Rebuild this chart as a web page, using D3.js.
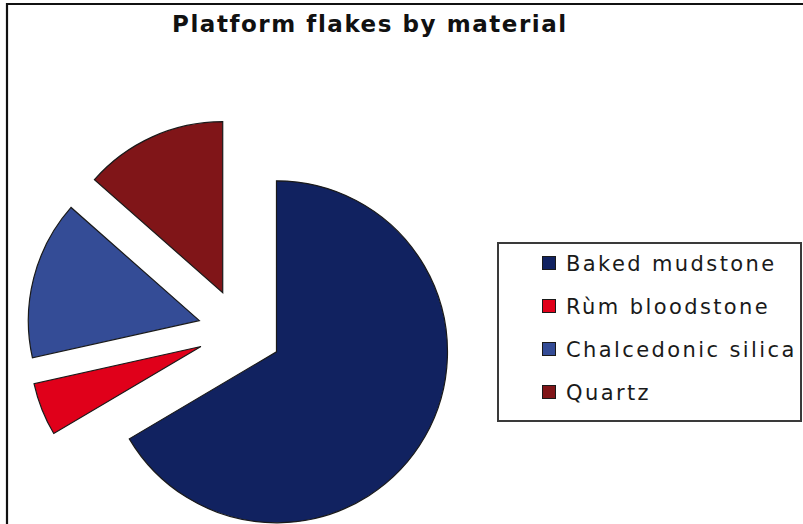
<!DOCTYPE html>
<html>
<head>
<meta charset="utf-8">
<script src="https://cdn.jsdelivr.net/npm/d3@7"></script>
<style>
  html, body { margin: 0; padding: 0; background: #fff; }
  svg { display: block; }
</style>
</head>
<body>
<svg id="chart" width="803" height="524"></svg>
<script>
// Platform flakes counted per raw material
const categories = ["Baked mudstone", "Rùm bloodstone", "Chalcedonic silica", "Quartz"];
const counts = [133, 10, 30, 27];
const colors = ["#112260", "#e0001a", "#344c96", "#801518"];
const title = "Platform flakes by material";

const svg = d3.select("#chart");
const W = 803, H = 524;

// outer frame (top and left edges visible)
svg.append("path")
  .attr("d", `M7,${H} V4 H${W}`)
  .attr("fill", "none")
  .attr("stroke", "#111")
  .attr("stroke-width", 2.2);

// title
svg.append("text")
  .attr("x", 172)
  .attr("y", 32)
  .attr("font-family", "DejaVu Sans, Verdana, sans-serif")
  .attr("font-weight", "bold")
  .attr("font-size", 23)
  .attr("letter-spacing", 1.55)
  .attr("fill", "#111")
  .text(title);

// exploded pie
const cx = 240, cy = 331, radius = 171, explode = 42;
const pie = d3.pie().sort(null).value(d => d.v);
const arcs = pie(categories.map((c, i) => ({ c, v: counts[i], col: colors[i] })));
const arc = d3.arc().innerRadius(0).outerRadius(radius);

const pieG = svg.append("g").attr("transform", `translate(${cx},${cy})`);
pieG.selectAll("path")
  .data(arcs)
  .join("path")
  .attr("transform", d => {
    const mid = (d.startAngle + d.endAngle) / 2;
    return `translate(${explode * Math.sin(mid)},${-explode * Math.cos(mid)})`;
  })
  .attr("d", arc)
  .attr("fill", d => d.data.col)
  .attr("stroke", "#1a1a1a")
  .attr("stroke-width", 1.2)
  .attr("stroke-linejoin", "miter");

// legend
const lg = svg.append("g");
lg.append("rect")
  .attr("x", 498).attr("y", 243)
  .attr("width", 303).attr("height", 178)
  .attr("fill", "#fff")
  .attr("stroke", "#3a3a3a")
  .attr("stroke-width", 2);

const ly = d3.scalePoint().domain(categories).range([271, 400]);
const items = lg.selectAll("g.item")
  .data(categories)
  .join("g")
  .attr("class", "item")
  .attr("transform", c => `translate(0,${ly(c)})`);

items.append("rect")
  .attr("x", 542.5).attr("y", -14.5)
  .attr("width", 13).attr("height", 13)
  .attr("fill", (c, i) => colors[i])
  .attr("stroke", "#1a1a1a")
  .attr("stroke-width", 1);

items.append("text")
  .attr("x", 566)
  .attr("y", 0)
  .attr("font-family", "DejaVu Sans, Verdana, sans-serif")
  .attr("font-size", 21)
  .attr("letter-spacing", 2.4)
  .attr("fill", "#1a1a1a")
  .text(c => c);
</script>
</body>
</html>
